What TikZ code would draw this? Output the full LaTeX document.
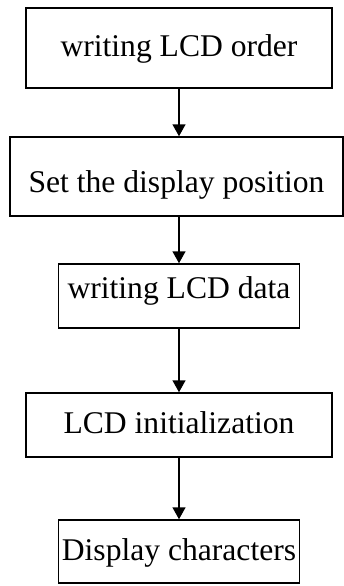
\documentclass[tikz,border=0pt]{standalone}
\usepackage{fontspec}
\setmainfont{Liberation Serif}
\usetikzlibrary{arrows.meta,positioning}

\begin{document}
\begin{tikzpicture}[every node/.style={draw, line width=1.5pt, inner sep=0pt, font=\fontsize{31.6pt}{36pt}\selectfont, text height=22pt, text depth=5pt}, >={Triangle[width=13pt,length=12pt]}, line width=1.5pt]
      \useasboundingbox (0,0) rectangle (343pt,-586pt);

      \node[minimum width=306pt, minimum height=80pt] (order) at (179pt,-48pt) {writing LCD order};
      \node[minimum width=333pt, minimum height=79pt, text height=40pt, text depth=9pt] (position) [below=47.5pt of order, xshift=-2.5pt] {Set the display position};
      \node[minimum width=241pt, minimum height=64pt, text depth=18pt] (data) [below=46.5pt of position, xshift=2.5pt] {writing LCD data};
      \node[minimum width=306pt, minimum height=64pt] (init) [below=63.5pt of data] {LCD initialization};
      \node[minimum width=241pt, minimum height=63pt] (chars) [below=61.5pt of init] {Display characters};

      \draw[->] (order) -- (order |- position.north);
      \draw[->] (data |- position.south) -- (data);
      \draw[->] (data) -- (init);
      \draw[->] (init) -- (chars);
    \end{tikzpicture}
\end{document}
